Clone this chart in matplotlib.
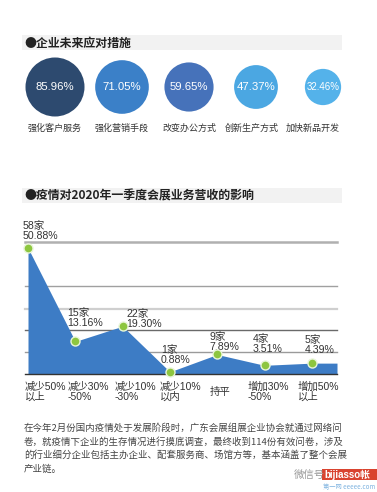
import matplotlib.pyplot as plt
import numpy as np

plt.rcParams['font.family'] = ['Liberation Sans', 'Noto Sans CJK SC', 'DejaVu Sans']

# --- data ---
measure_names = ["强化客户服务", "强化营销手段", "改变办公方式", "创新生产方式", "加快新品开发"]
measure_pcts = [85.96, 71.05, 59.65, 47.37, 32.46]
measure_colors = ["#2d4a6f", "#3b80c8", "#4672ba", "#4ba7e2", "#54b2ea"]

impact_cats = ["减少50%\n以上", "减少30%\n-50%", "减少10%\n-30%", "减少10%\n以内",
               "持平", "增加30%\n-50%", "增加50%\n以上"]
impact_counts = [58, 15, 22, 1, 9, 4, 5]
impact_pcts = [50.88, 13.16, 19.30, 0.88, 7.89, 3.51, 4.39]

title1 = "●企业未来应对措施"
title2 = "●疫情对2020年一季度会展业务营收的影响"
note_lines = [
    "在今年2月份国内疫情处于发展阶段时，广东会展组展企业协会就通过网络问",
    "卷，就疫情下企业的生存情况进行摸底调查，最终收到114份有效问卷，涉及",
    "的行业细分企业包括主办企业、配套服务商、场馆方等，基本涵盖了整个会展",
    "产业链。",
]

# label offsets in pixels (layout only)
label_dx = [-5, -8, 4, -9, -8, -12, -7]
label_dy = [17, 23, 7, 17, 12, 21, 18]
tick_dx = [-3, -8, -8, -10, -7, -17, -14]
name_dx = [0, 0, 0, -4, -10]

W, H = 377, 492
fig = plt.figure(figsize=(W / 100, H / 100), dpi=100)
fig.patch.set_facecolor("white")

# background layer in pixel coordinates
bg = fig.add_axes([0, 0, 1, 1])
bg.set_xlim(0, W)
bg.set_ylim(H, 0)
bg.axis("off")
for top, txt in [(35, title1), (188, title2)]:
    bg.add_patch(plt.Rectangle((22, top), 320, 15, color="#f2f2f2", lw=0))
    bg.text(24, top + 8, txt, fontsize=8.6, fontweight="bold", color="#222222",
            va="center", ha="left", family=["Noto Sans CJK SC", "DejaVu Sans"])
for i, line in enumerate(note_lines):
    bg.text(24, 428 + i * 13.7, line, fontsize=6.8, color="#444444", va="center",
            ha="left", family=["Noto Sans CJK SC", "DejaVu Sans"])
# watermark
bg.text(294, 475, "微信号", fontsize=7.5, color="#999999", va="center", ha="left",
        family=["Noto Sans CJK SC"])
bg.add_patch(plt.Rectangle((322, 469), 55, 11, color="#d9432f", lw=0))
bg.text(324, 474.5, "bijiasso帐", fontsize=7, color="white", fontweight="bold",
        va="center", ha="left")
bg.text(323, 487, "第一网 eeeee.com", fontsize=4.5, color="#7fb3e0", va="center", ha="left",
        family=["Noto Sans CJK SC"])

# --- circles ---
ax1 = fig.add_axes([0, (H - 119) / H, 1, 64 / H])
ax1.set_xlim(-55 / 67, (W - 55) / 67)
ax1.set_ylim(-1, 1)
ax1.axis("off")
xs = np.arange(len(measure_pcts))
ax1.scatter(xs, np.zeros(len(xs)), s=np.array(measure_pcts) * 21, c=measure_colors,
            linewidths=0, clip_on=False)
for i, (p, name) in enumerate(zip(measure_pcts, measure_names)):
    ax1.text(i, 0, f"{p:.2f}%", color="white", fontsize=8.2 if p > 40 else 7,
             ha="center", va="center")
    ax1.annotate(name, (i, 0), xytext=(name_dx[i], -41), textcoords="offset pixels",
                 ha="center", va="center", fontsize=6.5, color="#333333",
                 family=["Noto Sans CJK SC"], annotation_clip=False)

# --- area chart ---
ax2 = fig.add_axes([25 / W, (H - 374) / H, 312 / W, 132 / H])
x0 = -3 / 47.3
ax2.set_xlim(x0, x0 + 312 / 47.3)
ax2.set_ylim(0, 53.3)
for spine in ax2.spines.values():
    spine.set_visible(False)
ax2.set_xticks([])
ax2.set_yticks([])
ax2.patch.set_alpha(0)

grid_vals = [8.9, 17.8, 26.3, 35.5, 53.3]
grid_cols = ["#9a9a9a", "#6a6a6a", "#cfcfcf", "#a0a0a0", "#b0b0b0"]
grid_lw = [1, 1, 1.6, 1, 1.8]
for v, c, lw in zip(grid_vals, grid_cols, grid_lw):
    ax2.axhline(v, color=c, lw=lw, zorder=1, clip_on=False)
ax2.axhline(0, color="#333333", lw=1, zorder=4, clip_on=False)

xi = np.arange(len(impact_pcts))
fx = np.append(xi, ax2.get_xlim()[1])
fy = np.append(impact_pcts, impact_pcts[-1])
ax2.fill_between(fx, 0, fy, color="#3d7cc5", lw=0, zorder=2)
ax2.plot(xi, impact_pcts, "o", color="#8dc63f", markersize=6.5,
         markeredgecolor="#e8f5d8", markeredgewidth=1, zorder=5, clip_on=False)

for i, (n, p) in enumerate(zip(impact_counts, impact_pcts)):
    ax2.annotate(f"{n}家\n{p:.2f}%", (i, p), xytext=(label_dx[i], label_dy[i]),
                 textcoords="offset pixels", ha="left", va="center", fontsize=7.6,
                 color="#333333", linespacing=1.0, annotation_clip=False)
    ax2.annotate(impact_cats[i], (i, 0), xytext=(tick_dx[i], -18),
                 textcoords="offset pixels", ha="left", va="center", fontsize=7.5,
                 color="#333333", linespacing=1.0, annotation_clip=False)

fig.savefig("out.png", dpi=100, facecolor="white")
